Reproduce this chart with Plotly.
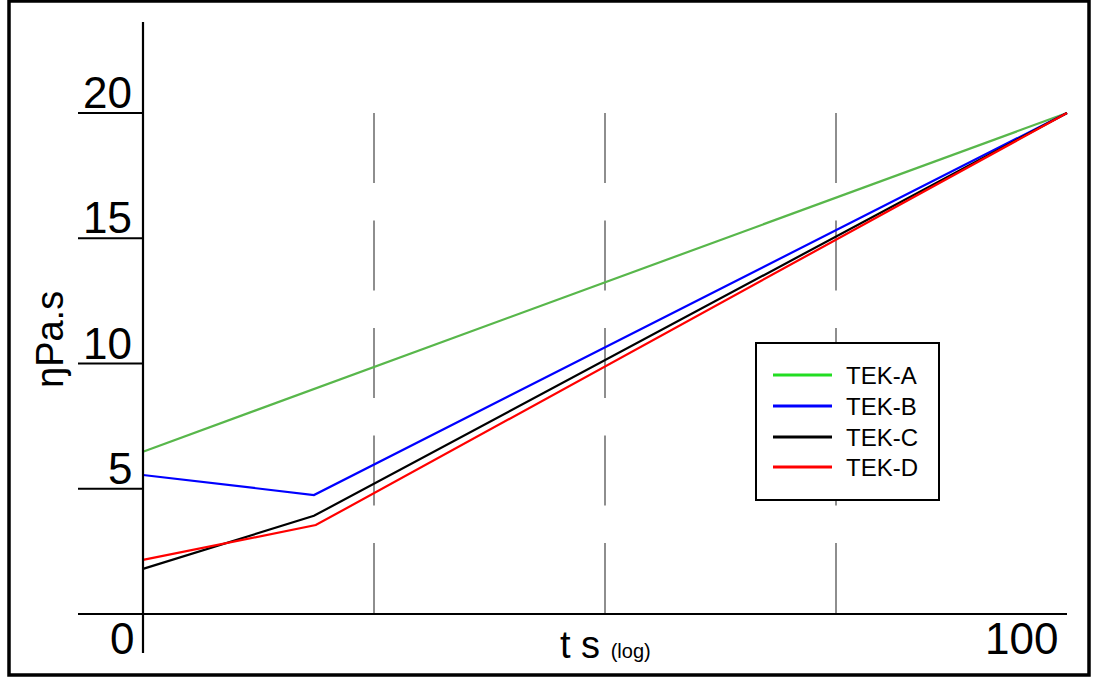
import plotly.graph_objects as go

# Series data: viscosity (Pa.s) against time on a 0-100 log-style scale
series_names = ["TEK-A", "TEK-B", "TEK-C", "TEK-D"]
tek_a_x = [0, 100]
tek_a_y = [6.48, 20]
tek_b_x = [0, 18.5, 100]
tek_b_y = [5.55, 4.75, 20]
tek_c_x = [0, 18.5, 100]
tek_c_y = [1.80, 3.92, 20]
tek_d_x = [0, 18.7, 100]
tek_d_y = [2.16, 3.55, 20]

line_colors = ["#58b74b", "#0000ff", "#000000", "#ff0000"]
swatch_colors = ["#22dd22", "#0000ff", "#000000", "#ff0000"]

y_ticks = [5, 10, 15, 20]
y_tick_labels = ["5", "10", "15", "20"]
x_tick_vals = [0, 100]
x_tick_labels = ["0", "100"]
x_guides = [25, 50, 75]

W, H = 1094, 679
FONT = "Arial, Liberation Sans, sans-serif"

# pixel mapping: x=0 -> 143px, x=100 -> 1067px ; y=0 -> 614px, y=20 -> 113px
px_per_x = (1067 - 143) / 100.0
px_per_y = (614 - 113) / 20.0
x_range = [-143 / px_per_x, (W - 143) / px_per_x]
y_range = [-(H - 614) / px_per_y, 614 / px_per_y]


def xv(px):
    return (px - 143) / px_per_x


def yv(py):
    return (614 - py) / px_per_y


fig = go.Figure()
xs = [tek_a_x, tek_b_x, tek_c_x, tek_d_x]
ys = [tek_a_y, tek_b_y, tek_c_y, tek_d_y]
for name, x, y, c in zip(series_names, xs, ys, line_colors):
    fig.add_trace(go.Scatter(x=x, y=y, mode="lines", name=name,
                             line=dict(color=c, width=2.2), showlegend=False,
                             cliponaxis=False))

shapes = []
# dashed vertical guides
for g in x_guides:
    shapes.append(dict(type="line", xref="x", yref="y", x0=g, x1=g, y0=20, y1=0,
                       line=dict(color="#444444", width=1.2, dash="70px,37.5px"),
                       layer="below"))
# axes
shapes.append(dict(type="line", xref="x", yref="y", x0=0, x1=0, y0=yv(653), y1=yv(22),
                   line=dict(color="black", width=2.2)))
shapes.append(dict(type="line", xref="x", yref="y", x0=xv(78), x1=100, y0=0, y1=0,
                   line=dict(color="black", width=2.2)))
for t in y_ticks:
    shapes.append(dict(type="line", xref="x", yref="y", x0=xv(78), x1=0, y0=t, y1=t,
                       line=dict(color="black", width=2.2)))
# outer frame
shapes.append(dict(type="rect", xref="paper", yref="paper",
                   x0=9 / W, x1=1089 / W, y0=1 - 675 / H, y1=1 - 1 / H,
                   line=dict(color="black", width=3.5)))
# legend box
shapes.append(dict(type="rect", xref="paper", yref="paper",
                   x0=756 / W, x1=939 / W, y0=1 - 500 / H, y1=1 - 343 / H,
                   fillcolor="white", line=dict(color="black", width=2), layer="above"))

annotations = []
legend_rows = [375, 406, 437, 467]
for name, c, ry in zip(series_names, swatch_colors, legend_rows):
    shapes.append(dict(type="line", xref="paper", yref="paper",
                       x0=773 / W, x1=832 / W, y0=1 - ry / H, y1=1 - ry / H,
                       line=dict(color=c, width=3), layer="above"))
    annotations.append(dict(xref="paper", yref="paper", x=844 / W, y=1 - ry / H,
                            xanchor="left", yanchor="middle", text=name, showarrow=False,
                            font=dict(family=FONT, size=24, color="black")))

for t, lab in zip(y_ticks, y_tick_labels):
    annotations.append(dict(xref="x", yref="y", x=xv(134), y=t, xanchor="right",
                            yanchor="bottom", yshift=-6, text=lab, showarrow=False,
                            font=dict(family=FONT, size=44, color="black")))

annotations.append(dict(xref="x", yref="y", x=xv(136), y=0, xanchor="right", yanchor="top",
                        yshift=2, text=x_tick_labels[0], showarrow=False,
                        font=dict(family=FONT, size=44, color="black")))
annotations.append(dict(xref="x", yref="y", x=x_tick_vals[1] - 4.9, y=0, xanchor="center",
                        yanchor="top", yshift=2, text=x_tick_labels[1], showarrow=False,
                        font=dict(family=FONT, size=44, color="black")))

annotations.append(dict(xref="x", yref="y", x=xv(605), y=0, xanchor="center", yanchor="top",
                        yshift=-8, text="t s <span style='font-size:20px'>(log)</span>",
                        showarrow=False, font=dict(family=FONT, size=38, color="black")))

annotations.append(dict(xref="x", yref="y", x=xv(50), y=yv(340), xanchor="center",
                        yanchor="middle", textangle=-90, text="ŋPa.s", showarrow=False,
                        font=dict(family=FONT, size=38, color="black")))

fig.update_layout(
    width=W, height=H, autosize=False,
    margin=dict(l=0, r=0, t=0, b=0),
    paper_bgcolor="white", plot_bgcolor="white",
    xaxis=dict(range=x_range, visible=False, fixedrange=True),
    yaxis=dict(range=y_range, visible=False, fixedrange=True),
    shapes=shapes, annotations=annotations, showlegend=False,
)

fig.write_html("out.html", config={"displayModeBar": False})
